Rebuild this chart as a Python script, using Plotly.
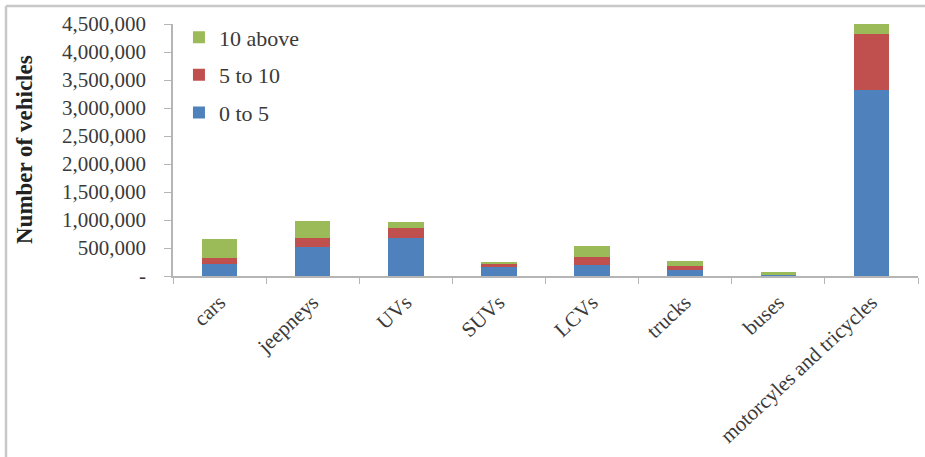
import plotly.graph_objects as go

# Vehicle counts by type, split by vehicle age group (years)
categories = ["cars", "jeepneys", "UVs", "SUVs", "LCVs", "trucks", "buses",
              "motorcyles and tricycles"]
age_0_to_5 = [210000, 520000, 685000, 155000, 200000, 115000, 25000, 3330000]
age_5_to_10 = [110000, 165000, 165000, 60000, 145000, 60000, 10000, 990000]
age_10_above = [340000, 300000, 115000, 35000, 195000, 100000, 30000, 180000]

y_tick_values = [0, 500000, 1000000, 1500000, 2000000, 2500000, 3000000,
                 3500000, 4000000, 4500000]
y_tick_labels = ["-"] + [f"{v:,}" for v in y_tick_values[1:]]

FONT = "Liberation Serif"
TEXT = "#3a3a3a"
AXIS = "#b5b5b5"

fig = go.Figure()
# (name, values, colour, legend rank) -- oldest group listed first in the legend
series = [
    ("0 to 5", age_0_to_5, "#4F81BD", 3),
    ("5 to 10", age_5_to_10, "#C0504D", 2),
    ("10 above", age_10_above, "#9BBB59", 1),
]
for name, values, color, rank in series:
    fig.add_trace(go.Bar(
        x=categories, y=values, name=name, legendgroup=name, legendrank=rank,
        marker=dict(color=color, line=dict(width=0)),
    ))

# frame lines along the top and left edge of the page
frame_x = -(173 - 6) / 745
frame_y = 1 + 18 / 252
fig.add_shape(type="line", xref="paper", yref="paper",
              x0=frame_x, x1=1.02, y0=frame_y, y1=frame_y,
              line=dict(color="#c8c8c8", width=2.5))
fig.add_shape(type="line", xref="paper", yref="paper",
              x0=frame_x, x1=frame_x, y0=frame_y, y1=-0.75,
              line=dict(color="#c8c8c8", width=2.5))

fig.add_annotation(
    text="<b>Number of vehicles</b>", xref="paper", yref="paper",
    x=-(173 - 24) / 745, y=0.5, textangle=-90, showarrow=False,
    xanchor="center", yanchor="middle",
    font=dict(family=FONT, size=23, color="#222222"),
)

fig.update_layout(
    width=925, height=457,
    margin=dict(l=173, r=7, t=24, b=181),
    paper_bgcolor="white", plot_bgcolor="white",
    barmode="stack", bargap=0.62,
    font=dict(family=FONT, size=21, color=TEXT),
    showlegend=True,
    legend=dict(
        x=0.008, y=1.03, xanchor="left", yanchor="top",
        traceorder="grouped", tracegroupgap=6,
        font=dict(family=FONT, size=22, color=TEXT),
        bgcolor="rgba(0,0,0,0)", itemwidth=30,
    ),
    xaxis=dict(
        type="category", showline=True, linecolor=AXIS, linewidth=1.5,
        ticks="outside", tickson="boundaries", ticklen=6, tickcolor=AXIS,
        tickangle=-43, ticklabelstandoff=4,
        tickfont=dict(family=FONT, size=21, color=TEXT),
        showgrid=False, zeroline=False,
    ),
    yaxis=dict(
        range=[0, 4500000], tickvals=y_tick_values, ticktext=y_tick_labels,
        showline=True, linecolor=AXIS, linewidth=1.5,
        ticks="outside", ticklen=7, tickcolor=AXIS, ticklabelstandoff=14,
        tickfont=dict(family=FONT, size=21, color=TEXT),
        showgrid=False, zeroline=False,
    ),
)

fig.write_html("out.html")
